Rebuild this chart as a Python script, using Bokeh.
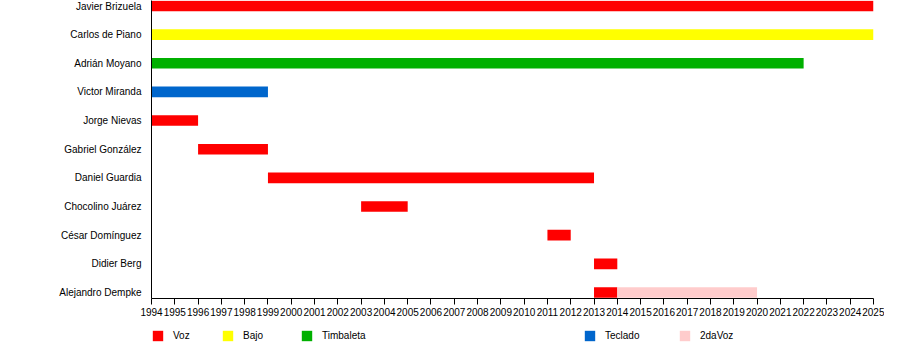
from bokeh.plotting import figure
from bokeh.layouts import column
from bokeh.models import ColumnDataSource, Range1d, FixedTicker, Legend, LegendItem
from bokeh.embed import file_html
from bokeh.resources import INLINE

# ---- data ----
members = ["Javier Brizuela", "Carlos de Piano", "Adrián Moyano", "Victor Miranda",
           "Jorge Nievas", "Gabriel González", "Daniel Guardia", "Chocolino Juárez",
           "César Domínguez", "Didier Berg", "Alejandro Dempke"]
roles = ["Voz", "Bajo", "Timbaleta", "Teclado", "2daVoz"]
role_colors = ["#FF0000", "#FFFF00", "#00B000", "#0066CC", "#FFCCCC"]

bar_member = ["Javier Brizuela", "Carlos de Piano", "Adrián Moyano", "Victor Miranda",
              "Jorge Nievas", "Gabriel González", "Daniel Guardia", "Chocolino Juárez",
              "César Domínguez", "Didier Berg", "Alejandro Dempke", "Alejandro Dempke"]
bar_start = [1994, 1994, 1994, 1994, 1994, 1996, 1999, 2003, 2011, 2013, 2013, 2014]
bar_end = [2025, 2025, 2022, 1999, 1996, 1999, 2013, 2005, 2012, 2014, 2014, 2020]
bar_role = ["Voz", "Bajo", "Timbaleta", "Teclado", "Voz", "Voz", "Voz", "Voz",
            "Voz", "Voz", "Voz", "2daVoz"]
years = list(range(1994, 2026))

# ---- layout settings ----
legend_x = [0, 70, 149, 432, 527]   # offsets from the plot frame's left edge
legend_y = 2
FONT = "Liberation Sans"

ypos = {m: len(members) - 1 - i for i, m in enumerate(members)}

p = figure(width=884, height=322, output_backend="svg", toolbar_location=None,
           x_range=Range1d(1994, 2025), y_range=Range1d(-0.21, 10.19),
           min_border_left=151, min_border_right=11, min_border_top=0,
           min_border_bottom=24)

lg = figure(width=884, height=22, output_backend="svg", toolbar_location=None,
            x_axis_location=None, y_axis_location=None,
            x_range=Range1d(0, 1), y_range=Range1d(0, 1),
            min_border_left=0, min_border_right=0, min_border_top=0,
            min_border_bottom=0)
lg.grid.visible = False
lg.outline_line_color = None

for role, color, lx in zip(roles, role_colors, legend_x):
    idx = [i for i, r in enumerate(bar_role) if r == role]
    src = ColumnDataSource(dict(
        y=[ypos[bar_member[i]] for i in idx],
        left=[bar_start[i] for i in idx],
        right=[bar_end[i] for i in idx],
    ))
    p.hbar(y="y", left="left", right="right", height=0.37, source=src,
           fill_color=color, line_color=None)
    proxy = lg.hbar(y="y", left="left", right="right", height=0.37, source=src,
                    fill_color=color, line_color=None, visible=False)
    leg = Legend(items=[LegendItem(label=role, renderers=[proxy])],
                 location=(lx, legend_y), orientation="horizontal",
                 glyph_width=13, glyph_height=13, label_height=13, label_width=10,
                 label_standoff=9, padding=0, margin=0, spacing=0,
                 border_line_color=None, background_fill_alpha=0,
                 label_text_font=FONT, label_text_font_size="10px",
                 label_text_color="black", label_text_baseline="middle")
    lg.add_layout(leg)

# x axis
p.xaxis.ticker = FixedTicker(ticks=years)
p.xaxis.major_label_text_font = FONT
p.xaxis.major_label_text_font_size = "10px"
p.xaxis.major_label_text_color = "black"
p.xaxis.major_tick_out = 6
p.xaxis.major_tick_in = 0
p.xaxis.minor_tick_out = 0
p.xaxis.minor_tick_in = 0
p.xaxis.major_label_standoff = 3
p.xaxis.axis_line_color = "black"
p.xaxis.major_tick_line_color = "black"

# y axis
p.yaxis.ticker = FixedTicker(ticks=sorted(ypos.values()))
p.yaxis.major_label_overrides = {v: k for k, v in ypos.items()}
p.yaxis.major_label_text_font = FONT
p.yaxis.major_label_text_font_size = "10px"
p.yaxis.major_label_text_color = "black"
p.yaxis.major_tick_out = 0
p.yaxis.major_tick_in = 0
p.yaxis.minor_tick_out = 0
p.yaxis.minor_tick_in = 0
p.yaxis.major_label_standoff = 10
p.yaxis.axis_line_color = "black"

p.grid.visible = False
p.outline_line_color = None

layout = column(p, lg, spacing=0)

open("out.html", "w").write(file_html(layout, INLINE))
